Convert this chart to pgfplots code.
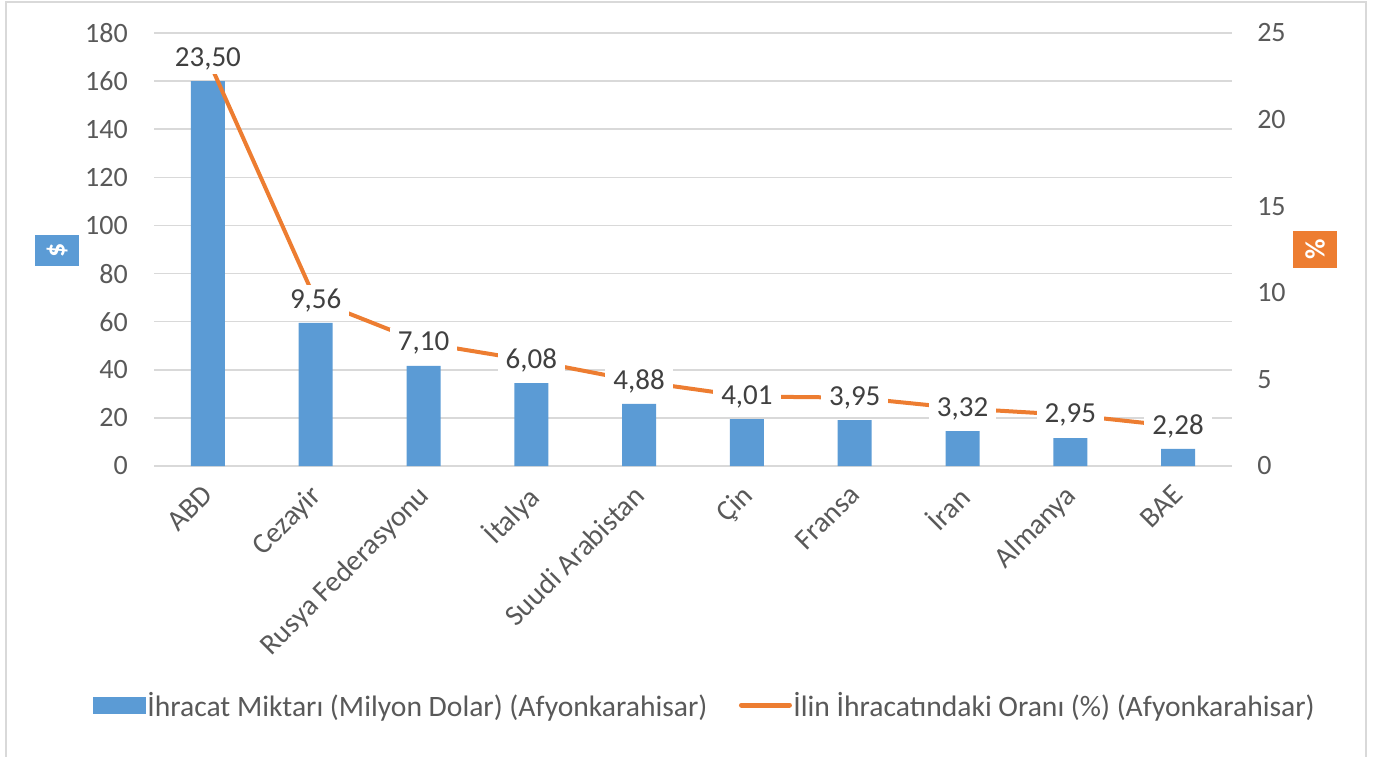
\documentclass[border=0pt]{standalone}
\usepackage{pgfplots}
\pgfplotsset{compat=1.18}
\usepackage{fontspec}
\setmainfont{Carlito}
\definecolor{barblue}{HTML}{5B9BD5}
\definecolor{lineorange}{HTML}{ED7D31}
\definecolor{gridgray}{HTML}{D9D9D9}
\definecolor{txtgray}{HTML}{595959}
\definecolor{lblgray}{HTML}{404040}
\newcommand{\tickfont}{\fontsize{28}{32}\selectfont}
\newcommand{\lblfont}{\fontsize{29}{33}\selectfont}
\newcommand{\legfont}{\fontsize{29.6}{33}\selectfont}
\begin{document}
\begin{tikzpicture}
\path[use as bounding box] (0,0) rectangle (1383pt,756pt);
\draw[gridgray, line width=2pt] (6pt,-2pt) -- (6pt,754pt) -- (1366pt,754pt) -- (1366pt,-2pt);
\begin{axis}[
  at={(154pt,290pt)}, anchor=south west,
  scale only axis, width=1078pt, height=433pt,
  xmin=-0.5, xmax=9.5, ymin=0, ymax=180,
  ytick={0,20,...,180},
  xtick={0,...,9},
  xticklabels={ABD,Cezayir,Rusya Federasyonu,İtalya,Suudi Arabistan,Çin,Fransa,İran,Almanya,BAE},
  x tick label style={xshift=-7pt, rotate=45, anchor=north east, font=\lblfont, text=txtgray, inner sep=0pt},
  xticklabel shift=17pt,
  y tick label style={font=\tickfont, text=txtgray, inner sep=0pt},
  yticklabel shift=26pt,
  /pgf/number format/assume math mode=true,
  ymajorgrids, grid style={gridgray, line width=1.5pt},
  axis line style={draw=none}, major tick length=0pt,
]
\addplot[ybar, bar width=34pt, bar shift=0pt, fill=barblue, draw=none] coordinates {
(0,160) (1,59.5) (2,41.6) (3,34.5) (4,25.8) (5,19.5) (6,19.1) (7,14.5) (8,11.6) (9,7.1)};
\end{axis}
\begin{axis}[
  at={(154pt,290pt)}, anchor=south west,
  scale only axis, width=1078pt, height=433pt,
  xmin=-0.5, xmax=9.5, ymin=0, ymax=25,
  ytick={0,5,...,25},
  xtick=\empty,
  axis y line*=right,
  y tick label style={font=\tickfont, text=txtgray, inner sep=0pt, anchor=west},
  yticklabel shift=25pt,
  /pgf/number format/assume math mode=true,
  axis line style={draw=none}, major tick length=0pt,
  legend style={at={(0.511,-0.552)}, anchor=center, draw=none, fill=none,
    legend columns=2, font=\legfont, text=txtgray,
    /tikz/every even column/.append style={column sep=30pt},
    nodes={inner sep=1.5pt}},
]
\addlegendimage{legend image code/.code={\fill[barblue] (0pt,-8pt) rectangle (52pt,8pt);}}
\addlegendentry{İhracat Miktarı (Milyon Dolar) (Afyonkarahisar)}
\addlegendimage{legend image code/.code={\draw[lineorange, line width=5pt, line cap=round] (2pt,0pt) -- (50pt,0pt);}}
\addlegendentry{İlin İhracatındaki Oranı (\%) (Afyonkarahisar)}
\addplot[forget plot, lineorange, line width=4pt, line join=round,
  nodes near coords, point meta=explicit symbolic,
  every node near coord/.append style={anchor=center, fill=white, inner xsep=8pt, inner ysep=4pt, font=\lblfont, text=lblgray}]
  table[meta=l] {
x y l
0 23.50 23,50
1 9.56 9,56
2 7.10 7,10
3 6.08 6,08
4 4.88 4,88
5 4.01 4,01
6 3.95 3,95
7 3.32 3,32
8 2.95 2,95
9 2.28 2,28
};
\end{axis}
\node[fill=barblue, text=white, rotate=90, minimum width=31pt, minimum height=44pt, inner sep=0pt, font=\tickfont\bfseries] at (57pt,505.5pt) {\$};
\node[fill=lineorange, text=white, rotate=90, minimum width=37pt, minimum height=44pt, inner sep=0pt, font=\tickfont\bfseries] at (1315pt,506.5pt) {\%};
\end{tikzpicture}
\end{document}
